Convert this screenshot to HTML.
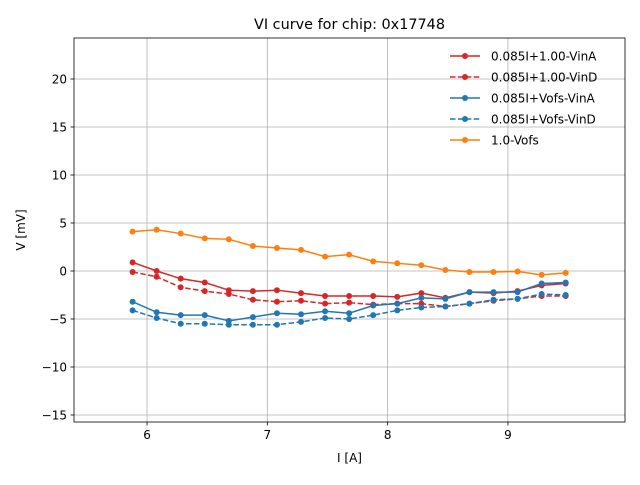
<!DOCTYPE html>
<html><head><meta charset="utf-8"><style>
body{margin:0;background:#fff;font-family:"Liberation Sans","DejaVu Sans",sans-serif;}
svg text{font-family:"DejaVu Sans","Liberation Sans",sans-serif;}
</style></head><body>
<svg id="chart" width="640" height="480" xmlns="http://www.w3.org/2000/svg">
<rect width="640" height="480" fill="#fff"/>
<text x="349.5" y="29" text-anchor="middle" font-size="14.4">VI curve for chip: 0x17748</text>
<g id="grid"></g><g id="series"></g><g id="axes"></g><g id="legend"></g>
</svg>
<script>
const xs=[5.88,6.08,6.28,6.48,6.68,6.88,7.08,7.28,7.48,7.68,7.88,8.08,8.28,8.48,8.68,8.88,9.08,9.28,9.48];
const redA=[0.9,0.0,-0.8,-1.2,-2.0,-2.1,-2.0,-2.3,-2.6,-2.6,-2.6,-2.7,-2.3,-2.8,-2.2,-2.3,-2.1,-1.5,-1.3];
const redD=[-0.1,-0.6,-1.7,-2.1,-2.4,-3.0,-3.2,-3.1,-3.4,-3.3,-3.5,-3.4,-3.4,-3.7,-3.4,-3.1,-2.9,-2.6,-2.6];
const blueA=[-3.2,-4.3,-4.6,-4.6,-5.2,-4.8,-4.4,-4.5,-4.2,-4.4,-3.6,-3.4,-2.8,-2.9,-2.2,-2.2,-2.2,-1.3,-1.2];
const blueD=[-4.1,-4.9,-5.5,-5.5,-5.6,-5.6,-5.6,-5.3,-4.9,-5.0,-4.6,-4.1,-3.8,-3.7,-3.4,-3.0,-2.9,-2.4,-2.5];
const orange=[4.1,4.3,3.9,3.4,3.3,2.6,2.4,2.2,1.5,1.7,1.0,0.8,0.6,0.1,-0.1,-0.1,-0.05,-0.4,-0.2];
const seriesNames=["0.085I+1.00-VinA","0.085I+1.00-VinD","0.085I+Vofs-VinA","0.085I+Vofs-VinD","1.0-Vofs"];
const xTicks=[6,7,8,9];
const yTicks=[-15,-10,-5,0,5,10,15,20];
const L=74,R=625,T=38,B=422,X0=5.393,X1=9.973,Y0=-15.73,Y1=24.27;
const sx=v=>L+(v-X0)/(X1-X0)*(R-L);
const sy=v=>B-(v-Y0)/(Y1-Y0)*(B-T);
const NS="http://www.w3.org/2000/svg";
function mk(tag,attrs,parent){const e=document.createElementNS(NS,tag);for(const k in attrs)e.setAttribute(k,attrs[k]);parent.appendChild(e);return e;}
const grid=document.getElementById('grid'),axes=document.getElementById('axes'),ser=document.getElementById('series'),leg=document.getElementById('legend');
xTicks.forEach(t=>{const x=sx(t);
 const g=mk('line',{x1:x,x2:x,y1:T,y2:B,stroke:'#b0b0b0','stroke-width':0.8},grid);
 
 
 mk('line',{x1:x,x2:x,y1:B,y2:B+3.5,stroke:'#000','stroke-width':0.8},axes);
 const tx=mk('text',{x:x,y:B+17,'text-anchor':'middle','font-size':12},axes);tx.textContent=t;
 
 });
yTicks.forEach(t=>{const y=sy(t);
 const g=mk('line',{x1:L,x2:R,y1:y,y2:y,stroke:'#b0b0b0','stroke-width':0.8},grid);
 
 
 mk('line',{x1:L-3.5,x2:L,y1:y,y2:y,stroke:'#000','stroke-width':0.8},axes);
 const tx=mk('text',{x:L-7,y:y+4.5,'text-anchor':'end','font-size':12},axes);tx.textContent=(t<0?'\u2212'+(-t):t);
 
 });
const fr=mk('rect',{x:L,y:T,width:R-L,height:B-T,fill:'none',stroke:'#000','stroke-width':0.8},axes);


const xl=mk('text',{x:(L+R)/2,y:462,'text-anchor':'middle','font-size':12},axes);xl.textContent='I [A]';


const yl=mk('text',{x:0,y:0,'text-anchor':'middle','font-size':12,transform:'translate(25,'+(T+B)/2+') rotate(-90)'},axes);yl.textContent='V [mV]';


const defs=[[redA,'#d62728',false],[redD,'#d62728',true],[blueA,'#1f77b4',false],[blueD,'#1f77b4',true],[orange,'#ff7f0e',false]];
defs.forEach((d,i)=>{const [vals,col,dash]=d;
 const g=mk('g',{},ser);
 
 
 const pts=vals.map((v,j)=>sx(xs[j])+','+sy(v)).join(' ');
 const pl=mk('polyline',{points:pts,fill:'none',stroke:col,'stroke-width':1.5,'stroke-dasharray':dash?'5.5,2.4':'none'},g);
 
 
 vals.forEach((v,j)=>{const c=mk('circle',{cx:sx(xs[j]),cy:sy(v),r:3,fill:col},g);
  
  });
 const ly=56+i*21;
 const lg=mk('g',{},leg);
 
 
 mk('line',{x1:450,x2:480,y1:ly,y2:ly,stroke:col,'stroke-width':1.5,'stroke-dasharray':dash?'5.5,2.4':'none'},lg);
 mk('circle',{cx:465,cy:ly,r:3,fill:col},lg);
 const t=mk('text',{x:491,y:ly+4.5,'font-size':12},lg);t.textContent=seriesNames[i];});
</script>
</body></html>
